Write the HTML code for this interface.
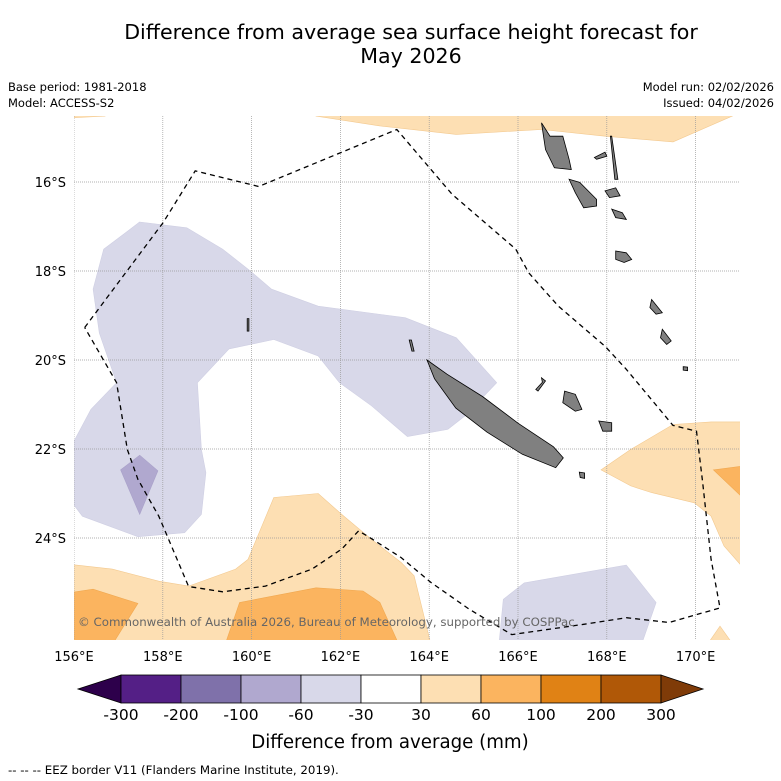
<!DOCTYPE html>
<html><head><meta charset="utf-8"><style>
html,body{margin:0;padding:0;background:#fff;}
svg{display:block;font-family:"DejaVu Sans","Liberation Sans",sans-serif;}
</style></head><body>
<svg id="chart" width="781" height="781" viewBox="0 0 781 781">
<text x="411" y="39" font-size="20.6" text-anchor="middle">Difference from average sea surface height forecast for</text>
<text x="411" y="63" font-size="20.6" text-anchor="middle">May 2026</text>
<text x="8" y="91" font-size="11.5">Base period: 1981-2018</text>
<text x="8" y="107" font-size="11.5">Model: ACCESS-S2</text>
<text x="774" y="91" font-size="11.5" text-anchor="end">Model run: 02/02/2026</text>
<text x="774" y="107" font-size="11.5" text-anchor="end">Issued: 04/02/2026</text>
<defs><clipPath id="mapclip"><rect x="74" y="116" width="666" height="524"/></clipPath></defs>
<g id="map" clip-path="url(#mapclip)"></g>
<g id="axes"></g>
<text x="78" y="626" font-size="11.8" fill="#666">© Commonwealth of Australia 2026, Bureau of Meteorology, supported by COSPPac</text>
<g id="cbar"></g>
<text x="390" y="748" font-size="18.2" text-anchor="middle">Difference from average (mm)</text>
<text x="8" y="774" font-size="11.8">--  --  -- EEZ border V11 (Flanders Marine Institute, 2019).</text>
</svg>
<script>
const lonTicks=[156,158,160,162,164,166,168,170];
const latTicks=[16,18,20,22,24];
const cbLevels=[-300,-200,-100,-60,-30,30,60,100,200,300];
const cbColors=["#541f86","#7f71aa","#b0a8cf","#d8d8e9","#ffffff","#fddfb3","#fbb45f","#e08215","#b05807"];
const cbUnder="#2d004b", cbOver="#7f3b08";
// contour regions [lon, latS]
const lightPurple=[[157.48,16.90],[158.54,17.03],[159.35,17.51],[159.97,18.00],[160.45,18.41],[161.50,18.79],[163.46,19.05],[164.61,19.50],[165.52,20.51],[164.80,21.26],[164.42,21.56],[163.51,21.72],[162.70,21.03],[161.98,20.51],[161.50,19.91],[160.50,19.54],[159.49,19.75],[158.78,20.51],[158.87,22.01],[158.97,22.53],[158.87,23.47],[158.49,23.88],[157.44,23.97],[156.19,23.51],[155.9,23.13],[155.9,22.01],[156.38,21.11],[156.96,20.51],[156.57,19.39],[156.43,18.41],[156.67,17.51]];
const midPurple=[[157.48,22.14],[157.89,22.49],[157.48,23.47],[157.05,22.47]];
const purpleBottom=[[165.67,25.38],[166.14,25.01],[168.44,24.61],[169.11,25.45],[168.78,26.4],[165.57,26.4]];
const orangeTop=[[161.3,14.4],[161.45,14.52],[162.89,14.74],[164.61,14.93],[166.53,14.82],[167.96,14.97],[169.49,15.10],[171.1,14.4]];
const orangeTopLeft=[[155.9,14.4],[156.7,14.4],[156.7,14.52],[155.9,14.56]];
const orangeBottom=[[155.9,24.59],[156.86,24.70],[157.91,24.97],[158.58,25.08],[159.64,24.70],[159.92,24.48],[160.50,23.09],[161.50,23.00],[162.03,23.47],[162.70,24.03],[163.37,24.55],[163.66,24.85],[164.04,26.4],[155.9,26.4]];
const orangeRight=[[167.87,22.47],[168.54,22.01],[169.49,21.45],[170.35,21.39],[171.1,21.39],[171.1,24.70],[170.64,24.18],[170.35,23.51],[169.97,23.21],[169.01,22.98],[168.54,22.83]];
const orangeSmall=[[170.26,26.4],[170.55,25.98],[170.85,26.4]];
const darkOrangeLeft=[[155.9,25.23],[156.43,25.15],[157.44,25.47],[156.86,26.4],[155.9,26.4]];
const darkOrangeMid=[[159.40,26.4],[159.73,25.45],[161.45,25.12],[162.51,25.19],[162.89,25.45],[163.32,26.4]];
const darkOrangeRight=[[170.40,22.47],[171.1,22.38],[171.1,23.13]];
const eez=[[156.24,19.27],[158.01,16.91],[158.73,15.75],[160.16,16.10],[163.27,14.82],[164.52,16.28],[165.95,17.51],[166.24,18.04],[166.91,18.79],[167.96,19.69],[168.44,20.21],[169.49,21.47],[170.02,21.60],[170.16,22.76],[170.35,24.48],[170.55,25.57],[169.40,25.90],[168.44,25.79],[167.48,25.94],[165.86,26.17],[164.90,25.60],[164.04,25.00],[163.37,24.44],[162.60,23.95],[162.41,23.84],[162.03,24.25],[161.36,24.70],[160.31,25.08],[159.35,25.21],[158.58,25.09],[157.91,23.51],[157.44,22.68],[157.20,22.01],[156.96,20.51],[156.24,19.27]];
const islands=[
 [[163.95,20.0],[164.4,20.32],[165.2,20.82],[166.0,21.42],[166.8,21.95],[167.02,22.2],[166.85,22.42],[166.1,22.12],[165.3,21.62],[164.6,21.08],[164.12,20.42]],
 [[166.53,14.67],[166.72,14.97],[167.01,14.97],[167.15,15.49],[167.20,15.72],[166.82,15.68],[166.62,15.27]],
 [[167.15,15.94],[167.39,16.01],[167.77,16.39],[167.77,16.54],[167.48,16.58],[167.29,16.24]],
 [[167.96,16.20],[168.20,16.13],[168.30,16.31],[168.06,16.35]],
 [[167.72,15.45],[167.96,15.33],[168.0,15.42],[167.77,15.49]],
 [[168.11,14.97],[168.25,15.94],[168.18,15.94],[168.08,14.97]],
 [[168.11,16.61],[168.35,16.69],[168.44,16.84],[168.20,16.80]],
 [[168.20,17.55],[168.44,17.59],[168.56,17.74],[168.39,17.81],[168.20,17.74]],
 [[166.53,20.40],[166.62,20.47],[166.45,20.70],[166.40,20.66],[166.55,20.50]],
 [[167.05,20.70],[167.29,20.77],[167.44,21.11],[167.29,21.15],[167.01,20.96]],
 [[167.82,21.37],[168.11,21.41],[168.11,21.60],[167.91,21.60]],
 [[167.38,22.52],[167.50,22.54],[167.50,22.66],[167.40,22.64]],
 [[169.01,18.64],[169.25,18.94],[169.11,18.97],[168.97,18.82]],
 [[169.25,19.31],[169.45,19.57],[169.35,19.65],[169.21,19.50]],
 [[169.72,20.15],[169.82,20.16],[169.82,20.24],[169.72,20.23]],
 [[159.90,19.07],[159.94,19.07],[159.94,19.35],[159.90,19.35]],
 [[163.55,19.55],[163.60,19.55],[163.66,19.80],[163.61,19.80]]
];
const X0=74,PXD=44.4,Y16=182,PYD=44.5;
function xS(lon){return X0+(lon-156)*PXD;}
function yS(lat){return Y16+(lat-16)*PYD;}
const NS="http://www.w3.org/2000/svg";
function mk(tag,attrs,parent){const e=document.createElementNS(NS,tag);for(const k in attrs)e.setAttribute(k,attrs[k]);parent.appendChild(e);return e;}
function pts(a){return a.map(p=>xS(p[0]).toFixed(1)+","+yS(p[1]).toFixed(1)).join(" ");}
const map=document.getElementById("map");
const strokeFor={"#d8d8e9":"#cfcfe3","#b0a8cf":"#a9a1c9","#fddfb3":"#f3c98f","#fbb45f":"#f0a850"};
function region(a,fill,name){const e=mk("polygon",{points:pts(a),fill:fill,stroke:strokeFor[fill],"stroke-width":0.6},map);

}
region(orangeTop,"#fddfb3","contour-30-60-top");
region(orangeTopLeft,"#fddfb3","contour-30-60-topleft");
region(orangeBottom,"#fddfb3","contour-30-60-bottom");
region(orangeRight,"#fddfb3","contour-30-60-right");
region(orangeSmall,"#fddfb3","contour-30-60-small");
region(darkOrangeLeft,"#fbb45f","contour-60-100-left");
region(darkOrangeMid,"#fbb45f","contour-60-100-mid");
region(darkOrangeRight,"#fbb45f","contour-60-100-right");
region(lightPurple,"#d8d8e9","contour-neg30-60-main");
region(purpleBottom,"#d8d8e9","contour-neg30-60-bottom");
region(midPurple,"#b0a8cf","contour-neg60-100");
lonTicks.forEach(l=>{const e=mk("line",{x1:xS(l),x2:xS(l),y1:116,y2:640,stroke:"#999","stroke-width":0.7,"stroke-dasharray":"1,1"},map);

});
latTicks.forEach(l=>{const e=mk("line",{x1:74,x2:740,y1:yS(l),y2:yS(l),stroke:"#999","stroke-width":0.7,"stroke-dasharray":"1,1"},map);

});
islands.forEach((a,i)=>{const e=mk("polygon",{points:pts(a),fill:"#808080",stroke:"#000","stroke-width":0.8},map);

});
const ez=mk("polyline",{points:pts(eez),fill:"none",stroke:"#000","stroke-width":1.3,"stroke-dasharray":"5,4"},map);


const axes=document.getElementById("axes");
lonTicks.forEach(l=>{const t=mk("text",{x:xS(l),y:661,"font-size":13,"text-anchor":"middle"},axes);t.textContent=l+"°E";

});
latTicks.forEach(l=>{const t=mk("text",{x:66,y:yS(l)+5,"font-size":13,"text-anchor":"end"},axes);t.textContent=l+"°S";

});
const cb=document.getElementById("cbar");
const cx0=121,cw=60,cy=675,ch=28;
const u=mk("polygon",{points:`${cx0},${cy} ${cx0},${cy+ch} 78,${cy+ch/2}`,fill:cbUnder,stroke:"#000","stroke-width":0.8},cb);


cbColors.forEach((c,i)=>{const r=mk("rect",{x:cx0+i*cw,y:cy,width:cw,height:ch,fill:c,stroke:"#000","stroke-width":0.8},cb);

});
const xe=cx0+cbColors.length*cw;
const o=mk("polygon",{points:`${xe},${cy} ${xe},${cy+ch} 703,${cy+ch/2}`,fill:cbOver,stroke:"#000","stroke-width":0.8},cb);


cbLevels.forEach((v,i)=>{const t=mk("text",{x:cx0+i*cw,y:720,"font-size":15.5,"text-anchor":"middle"},cb);t.textContent=v;

});
</script>
</body></html>
